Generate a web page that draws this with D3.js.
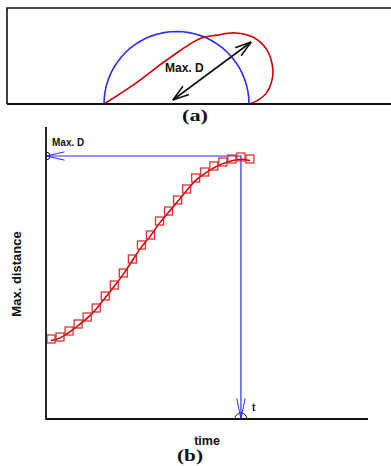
<!DOCTYPE html>
<html>
<head>
<meta charset="utf-8">
<script src="https://cdn.jsdelivr.net/npm/d3@7"></script>
<style>
  body { margin: 0; background: #fff; }
  svg { display: block; }
  text { font-family: "Liberation Sans", Arial, sans-serif; font-weight: bold; fill: #111; }
  .cap { font-family: "Liberation Serif", "Times New Roman", serif; }
</style>
</head>
<body>
<div id="chart"></div>
<script>
// panel (a): contours in units of the initial radius
var semiAngles = d3.range(0, 181, 5);
var redX = [-1, -0.6, -0.13, 0.32, 0.56, 0.81, 1.06, 1.25, 1.33, 1.31, 1.24, 1.12, 1.0];
var redY = [0, 0.26, 0.61, 0.90, 0.95, 0.98, 0.92, 0.74, 0.47, 0.30, 0.15, 0.05, 0];
var maxDFrom = [-0.05, 0.055];
var maxDTo = [1.03, 0.855];

// panel (b): max distance over time
var time = d3.range(0, 23);
var maxDist = [80, 82, 88, 95, 102, 111, 123, 134, 146, 160, 174, 184, 198, 208, 219, 230, 241, 247, 253, 257, 260, 262, 260];
var maxDValue = 263;
var tValue = 21;

var width = 391, height = 466;

var svg = d3.select("#chart").append("svg")
  .attr("width", width)
  .attr("height", height);

var defs = svg.append("defs");

// ---------- panel (a) ----------
var xa = d3.scaleLinear().domain([-1, 1]).range([104, 249]);
var ya = d3.scaleLinear().domain([0, 1]).range([104, 31.5]);

var ga = svg.append("g");

ga.append("path")
  .attr("d", "M" + 7 + "," + 104 + "V" + 8 + "H" + 392)
  .attr("fill", "none")
  .attr("stroke", "#111")
  .attr("stroke-width", 1.6);

ga.append("path")
  .datum(semiAngles)
  .attr("d", d3.line()
    .x(function (a) { return xa(-Math.cos(a * Math.PI / 180)); })
    .y(function (a) { return ya(Math.sin(a * Math.PI / 180)); }))
  .attr("fill", "none")
  .attr("stroke", "#2b2bff")
  .attr("stroke-width", 1.6);

ga.append("path")
  .datum(d3.zip(redX, redY))
  .attr("d", d3.line()
    .x(function (d) { return xa(d[0]); })
    .y(function (d) { return ya(d[1]); })
    .curve(d3.curveCatmullRom.alpha(0.5)))
  .attr("fill", "none")
  .attr("stroke", "#d00000")
  .attr("stroke-width", 1.6);

ga.append("line")
  .attr("x1", 7).attr("x2", 392)
  .attr("y1", 104).attr("y2", 104)
  .attr("stroke", "#111")
  .attr("stroke-width", 2);

function openHead(g, x1, y1, x2, y2, len, ang, color, w) {
  // barbs at (x2,y2) pointing away from (x1,y1)
  var th = Math.atan2(y2 - y1, x2 - x1);
  [-ang, ang].forEach(function (a) {
    g.append("line")
      .attr("x1", x2).attr("y1", y2)
      .attr("x2", x2 - len * Math.cos(th + a))
      .attr("y2", y2 - len * Math.sin(th + a))
      .attr("stroke", color)
      .attr("stroke-width", w);
  });
}

var ax1 = xa(maxDFrom[0]), ay1 = ya(maxDFrom[1]);
var ax2 = xa(maxDTo[0]), ay2 = ya(maxDTo[1]);
ga.append("line")
  .attr("x1", ax1).attr("y1", ay1)
  .attr("x2", ax2).attr("y2", ay2)
  .attr("stroke", "#111")
  .attr("stroke-width", 1.6);
openHead(ga, ax1, ay1, ax2, ay2, 17, 0.3, "#111", 1.6);
openHead(ga, ax2, ay2, ax1, ay1, 17, 0.3, "#111", 1.6);

ga.append("text")
  .attr("x", 165).attr("y", 72)
  .style("font-size", "12px")
  .text("Max. D");

ga.append("text")
  .attr("class", "cap")
  .attr("x", 182).attr("y", 121)
  .attr("textLength", 26)
  .attr("lengthAdjust", "spacingAndGlyphs")
  .style("font-size", "17px")
  .html("(<tspan>a</tspan>)");

// ---------- panel (b) ----------
var x = d3.scaleLinear().domain([-0.55, 35.05]).range([46, 368]);
var y = d3.scaleLinear().domain([0, 292]).range([419, 127]);

var gb = svg.append("g");

defs.append("clipPath").attr("id", "plotClip")
  .append("rect")
  .attr("x", 46).attr("y", 100)
  .attr("width", 330).attr("height", 319);

var x0 = x.range()[0], yBottom = y.range()[0];
var px = x(tValue), py = y(maxDValue);

// markers at the axes (half circles)
gb.append("circle")
  .attr("cx", x0).attr("cy", py).attr("r", 4)
  .attr("clip-path", "url(#plotClip)")
  .attr("fill", "none").attr("stroke", "#111").attr("stroke-width", 1);
gb.append("circle")
  .attr("cx", px).attr("cy", yBottom).attr("r", 6)
  .attr("clip-path", "url(#plotClip)")
  .attr("fill", "none").attr("stroke", "#111").attr("stroke-width", 1);

// guide lines
gb.append("path")
  .attr("d", "M" + px + "," + yBottom + "V" + py + "H" + x0)
  .attr("fill", "none")
  .attr("stroke", "#2b2bff")
  .attr("stroke-width", 1.2);
openHead(gb, px, py, x0, py, 19, 0.22, "#2b2bff", 1);
openHead(gb, px, py, px, yBottom, 21, 0.2, "#2b2bff", 1);

// red data
gb.append("path")
  .datum(d3.zip(time, maxDist))
  .attr("d", d3.line()
    .x(function (d) { return x(d[0]); })
    .y(function (d) { return y(d[1]) + 1.5; })
    .curve(d3.curveBasis))
  .attr("fill", "none")
  .attr("stroke", "#cc0000")
  .attr("stroke-width", 1.5);

gb.selectAll("rect.mk")
  .data(d3.zip(time, maxDist))
  .enter().append("rect")
  .attr("class", "mk")
  .attr("x", function (d) { return x(d[0]) - 4; })
  .attr("y", function (d) { return y(d[1]) - 4; })
  .attr("width", 8).attr("height", 8)
  .attr("fill", "none")
  .attr("stroke", "#dd1c1c")
  .attr("stroke-opacity", 0.9)
  .attr("stroke-width", 1.3);

// axes
gb.append("path")
  .attr("d", "M" + x0 + "," + y.range()[1] + "V" + yBottom + "H" + x.range()[1])
  .attr("fill", "none")
  .attr("stroke", "#111")
  .attr("stroke-width", 1.8);

gb.append("text")
  .attr("x", 52).attr("y", 146)
  .style("font-size", "10px")
  .text("Max. D");

gb.append("text")
  .attr("x", px + 11).attr("y", 411)
  .style("font-size", "10px")
  .text("t");

gb.append("text")
  .attr("x", 207).attr("y", 445)
  .attr("text-anchor", "middle")
  .style("font-size", "12.5px")
  .text("time");

gb.append("text")
  .attr("transform", "translate(21,274) rotate(-90)")
  .attr("text-anchor", "middle")
  .style("font-size", "13px")
  .text("Max. distance");

gb.append("text")
  .attr("class", "cap")
  .attr("x", 177).attr("y", 461)
  .attr("textLength", 26)
  .attr("lengthAdjust", "spacingAndGlyphs")
  .style("font-size", "16px")
  .html("(<tspan>b</tspan>)");
</script>
</body>
</html>
